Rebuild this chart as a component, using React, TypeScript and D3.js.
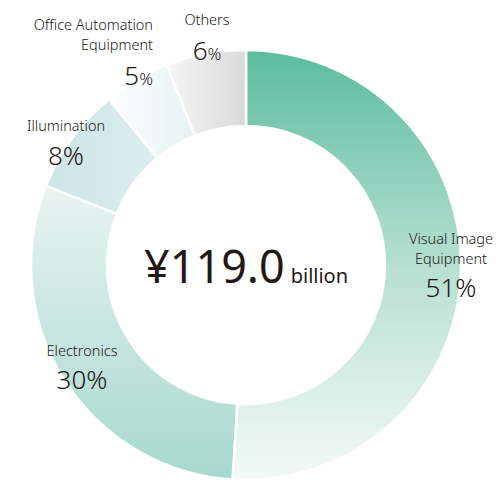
import * as d3 from 'd3';
import React, { useRef, useEffect } from 'react';

const categories = ['Visual Image Equipment', 'Electronics', 'Illumination', 'Office Automation Equipment', 'Others'];
const shares = [51, 30, 8, 5, 6];
const totalLabel = '¥119.0';
const totalUnit = 'billion';

const FONT = '"Noto Sans", "Open Sans", sans-serif';
const INK = '#231815';

const App: React.FC = () => {
  const ref = useRef<SVGSVGElement>(null);

  useEffect(() => {
    if (!ref.current) return;
    const svg = d3.select(ref.current);
    svg.selectAll('*').remove();

    const cx = 246, cy = 265;
    const outer = 215, inner = 139;

    const defs = svg.append('defs');
    const grad = (id: string, x1: number, y1: number, x2: number, y2: number, stops: [number, string][]) => {
      const g = defs.append('linearGradient').attr('id', id)
        .attr('gradientUnits', 'userSpaceOnUse')
        .attr('x1', x1).attr('y1', y1).attr('x2', x2).attr('y2', y2);
      stops.forEach(([o, c]) => g.append('stop').attr('offset', o).attr('stop-color', c));
    };
    grad('g0', 0, -outer, 0, outer, [[0, '#5cbc9e'], [0.5, '#b6dfd2'], [1, '#f3faf7']]);
    grad('g1', 0, -80, 0, outer, [[0, '#e8f4f1'], [1, '#a6d8cd']]);
    grad('g2', -200, 0, -90, 0, [[0, '#cde4e7'], [1, '#dcedef']]);
    grad('g3', -130, 0, -40, 0, [[0, '#fbfdfd'], [1, '#e3f1f1']]);
    grad('g4', -85, 0, 0, 0, [[0, '#f8f8f8'], [1, '#d9d9d9']]);
    const fills = ['url(#g0)', 'url(#g1)', 'url(#g2)', 'url(#g3)', 'url(#g4)'];

    const pie = d3.pie<number>().sort(null).value(d => d);
    const arc = d3.arc<d3.PieArcDatum<number>>().innerRadius(inner).outerRadius(outer);

    const g = svg.append('g').attr('transform', `translate(${cx},${cy})`);
    g.selectAll('path')
      .data(pie(shares))
      .enter()
      .append('path')
      .attr('d', arc)
      .attr('fill', (_, i) => fills[i])
      .attr('stroke', '#fff')
      .attr('stroke-width', 2.5);

    const labels: { lines: string[]; x: number; y: number; anchor: string; pctY: number; big: number; small: number }[] = [
      { lines: ['Visual Image', 'Equipment'], x: 451, y: 244, anchor: 'middle', pctY: 297, big: 26, small: 26 },
      { lines: ['Electronics'], x: 82, y: 356, anchor: 'middle', pctY: 389, big: 26, small: 26 },
      { lines: ['Illumination'], x: 66, y: 131, anchor: 'middle', pctY: 165, big: 26, small: 26 },
      { lines: ['Office Automation', 'Equipment'], x: 153, y: 30, anchor: 'end', pctY: 85, big: 26, small: 17 },
      { lines: ['Others'], x: 207, y: 25, anchor: 'middle', pctY: 60, big: 26, small: 17 },
    ];

    labels.forEach((l, i) => {
      const t = svg.append('text')
        .attr('font-family', FONT).attr('font-size', 14.5).attr('font-weight', 300)
        .attr('fill', INK).attr('text-anchor', l.anchor);
      l.lines.forEach((s, k) => {
        t.append('tspan').attr('x', l.x).attr('y', l.y + k * 20).text(s);
      });
      const p = svg.append('text')
        .attr('font-family', FONT).attr('font-weight', 300).attr('fill', INK)
        .attr('text-anchor', l.anchor)
        .attr('x', l.x).attr('y', l.pctY);
      p.append('tspan').attr('font-size', l.big).text(String(shares[i]));
      p.append('tspan').attr('font-size', l.small).text('%');
    });

    const c = svg.append('text')
      .attr('font-family', FONT).attr('fill', INK)
      .attr('text-anchor', 'middle')
      .attr('x', cx).attr('y', 283);
    c.append('tspan').attr('font-size', 45).text(totalLabel);
    c.append('tspan').attr('font-size', 20).attr('dx', 6).text(totalUnit);
  }, []);

  return (
    <div style={{ position: 'absolute', left: 0, top: 0 }}>
      <svg ref={ref} width={499} height={482} style={{ display: 'block', background: '#fff' }} />
    </div>
  );
};

export default App;
